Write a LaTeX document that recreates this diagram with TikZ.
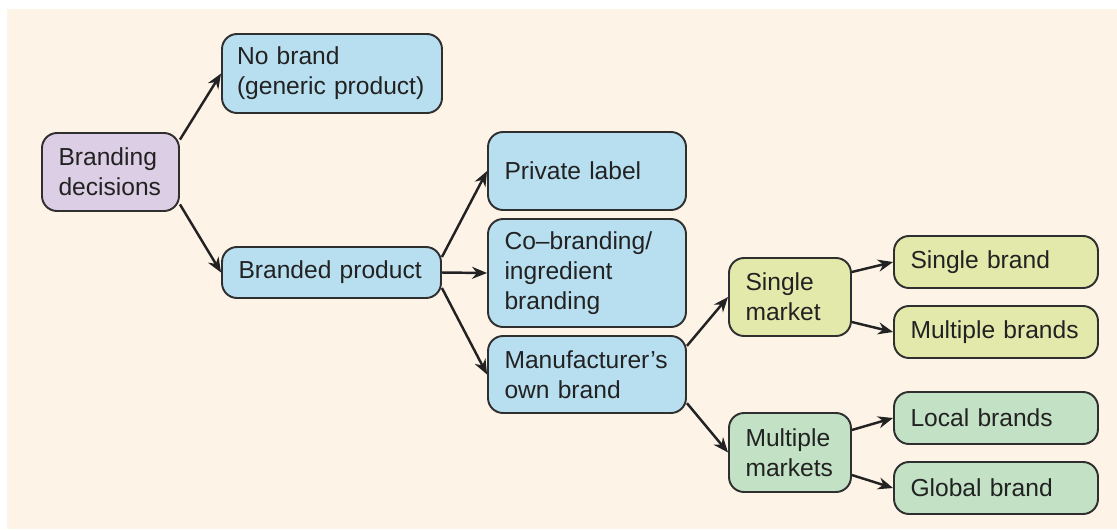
\documentclass[tikz,border=0pt]{standalone}
\usepackage{fontspec}
\setmainfont{Liberation Sans}
\usetikzlibrary{arrows.meta,positioning}
\definecolor{cream}{HTML}{FDF3E7}
\definecolor{lilac}{HTML}{DCCFE5}
\definecolor{skyblue}{HTML}{B8DFF0}
\definecolor{limegreen}{HTML}{E3E9AB}
\definecolor{mintgreen}{HTML}{C2E1C5}
\definecolor{boxline}{HTML}{2F2F2F}
\definecolor{textdark}{HTML}{222222}

\tikzset{
  box/.style={draw=boxline, line width=1.1pt, rounded corners=0.3cm, align=left,
    inner xsep=0.33cm, inner ysep=0pt, text=textdark, font=\fontsize{14}{17}\selectfont},
  arr/.style={-{Stealth[length=0.3cm,width=0.24cm]}, line width=1.4pt, draw=textdark}
}

\begin{document}
\begin{tikzpicture}[x=0.02cm, y=-0.02cm]
       \useasboundingbox (0,0) rectangle (1117,529);
       \fill[cream] (7,9) rectangle (1117,529);

       %Defining nodes
       \node[box, fill=lilac, text width=2.08cm, minimum height=1.56cm] (Decisions) at (110.5,172) {Branding\\decisions};

       \node[box, fill=skyblue, inner xsep=0.3cm, text width=3.8cm, minimum height=1.58cm] (NoBrand) at (332,73.5) {No brand\\\mbox{(generic product)}};
       \node[box, fill=skyblue, text width=3.72cm, minimum height=1.02cm] (Branded) at (331.5,272.5) {Branded product};

       \node[box, fill=skyblue, text width=3.30cm, minimum height=1.56cm] (Private) at (587,171) {Private label};
       \node[box, fill=skyblue, text width=3.30cm, minimum height=2.16cm] (CoBrand) at (587,273) {Co--branding/\\ingredient\\branding};
       \node[box, fill=skyblue, text width=3.30cm, minimum height=1.54cm] (OwnBrand) at (587,374.5) {Manufacturer's\\own brand};

       \node[box, fill=limegreen, text width=1.78cm, minimum height=1.56cm] (SingleMkt) at (790,297) {Single\\market};
       \node[box, fill=mintgreen, text width=1.78cm, minimum height=1.58cm] (MultiMkt) at (790,452.5) {Multiple\\markets};

       \node[box, fill=limegreen, text width=3.42cm, minimum height=1.04cm] (SingleBrand) at (996,262) {Single brand};
       \node[box, fill=limegreen, text width=3.42cm, minimum height=1.04cm] (MultiBrands) at (996,332) {Multiple brands};
       \node[box, fill=mintgreen, text width=3.42cm, minimum height=1.04cm] (LocalBrands) at (996,418) {Local brands};
       \node[box, fill=mintgreen, text width=3.42cm, minimum height=1.04cm] (GlobalBrand) at (996,488) {Global brand};

       %Drawing Diagram
       \draw[arr] (Decisions.25) -- (NoBrand.west);
       \draw[arr] (Decisions.-25) -- (Branded.west);
       \draw[arr] (Branded.8) -- (Private.west);
       \draw[arr] (Branded.east) -- (CoBrand.west);
       \draw[arr] (Branded.-8) -- (OwnBrand.west);
       \draw[arr] (OwnBrand.16) -- (SingleMkt.west);
       \draw[arr] (OwnBrand.-16) -- (MultiMkt.west);
       \draw[arr] (SingleMkt.22) -- (SingleBrand.west);
       \draw[arr] (SingleMkt.-22) -- (MultiBrands.west);
       \draw[arr] (MultiMkt.20) -- (LocalBrands.west);
       \draw[arr] (MultiMkt.-20) -- (GlobalBrand.west);
\end{tikzpicture}
\end{document}
